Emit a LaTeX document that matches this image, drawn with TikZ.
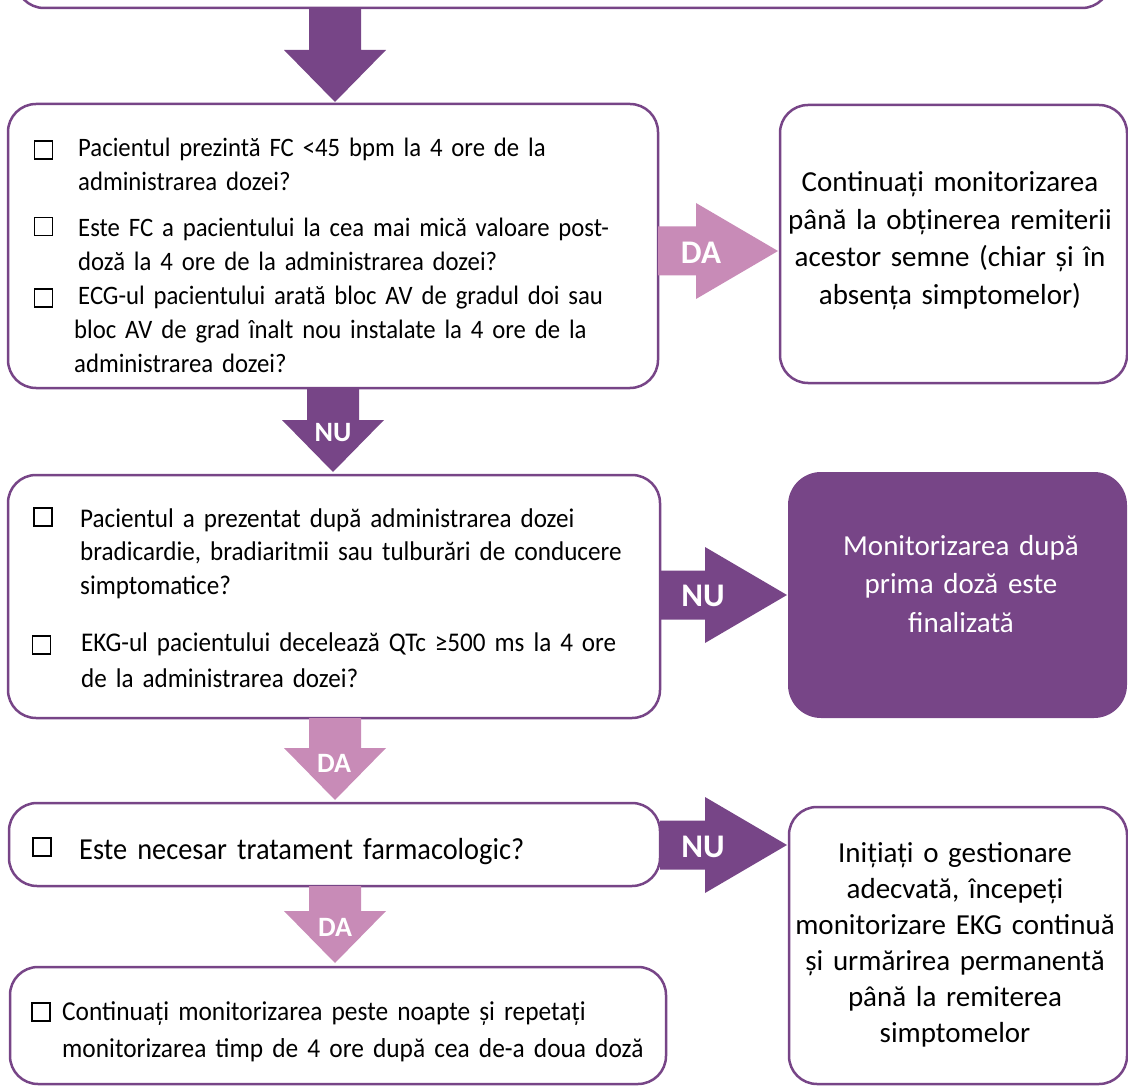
\documentclass[tikz,border=0pt]{standalone}
\usepackage{fontspec}
\setmainfont{Carlito}
\newfontfamily\condf[FakeStretch=0.93,WordSpace=0.85]{Carlito}
\definecolor{purp}{RGB}{119,69,135}
\definecolor{pinkc}{RGB}{200,139,183}
\tikzset{
  box/.style={draw=purp, line width=2.5pt, rounded corners=28pt, fill=white, inner sep=0pt},
  fbox/.style={fill=purp, rounded corners=33pt, inner sep=0pt},
  chk/.style={draw=black, line width=1.1pt, minimum size=18pt, inner sep=0pt},
  ltxt/.style={anchor=base west, text width=700pt, align=left, inner sep=0pt, font=\condf\fontsize{26.6}{34}\selectfont},
  ctxt/.style={anchor=base, text width=345pt, align=center, inner sep=0pt, font=\fontsize{29}{37.5}\selectfont},
  lblbig/.style={text=white, inner sep=0pt, font=\bfseries\fontsize{33}{33}\selectfont},
  lblsm/.style={text=white, inner sep=0pt, font=\bfseries\fontsize{28}{28}\selectfont},
}
\newcommand{\DownArr}[4]{% color, cx, ytop, ybot
  \fill[#1] ({#2-26},{#3}) -- ({#2-26},{#4-52}) -- ({#2-51},{#4-52}) -- ({#2},{#4})
    -- ({#2+51},{#4-52}) -- ({#2+26},{#4-52}) -- ({#2+26},{#3}) -- cycle;}
\newcommand{\RightArr}[4]{% color, cy, xleft, xright
  \fill[#1] ({#3},{#2-24.5}) -- ({#4-82},{#2-24.5}) -- ({#4-82},{#2-48}) -- ({#4},{#2})
    -- ({#4-82},{#2+48}) -- ({#4-82},{#2+24.5}) -- ({#3},{#2+24.5}) -- cycle;}
\begin{document}
\begin{tikzpicture}[x=1pt,y=-1pt]
\useasboundingbox (0,0) rectangle (1128,1086);

% boxes
\node[box, minimum width=1094pt, minimum height=80pt] (top) at (563,-32) {};
\node[box, minimum width=650pt, minimum height=284pt] (q1) at (333,246) {};
\node[box, minimum width=347pt, minimum height=278pt] (r1) at (953.5,244) {};
\node[box, minimum width=652pt, minimum height=243pt] (q2) at (334,596.5) {};
\node[fbox, minimum width=339pt, minimum height=246pt] (r2) at (957.5,595) {};
\node[box, minimum width=651pt, minimum height=83pt] (q3) at (334.5,844.5) {};
\node[box, minimum width=338pt, minimum height=277pt] (r3) at (958,945.5) {};
\node[box, minimum width=656pt, minimum height=117pt] (q4) at (338,1025.5) {};

% arrows
\DownArr{purp}{335}{8}{102}
\DownArr{purp}{333}{388}{472}
\DownArr{pinkc}{335}{718}{800}
\DownArr{pinkc}{335}{886}{963}
\RightArr{pinkc}{251}{658}{778}
\RightArr{purp}{595}{660}{787}
\RightArr{purp}{845}{660}{787}

\node[lblbig] (lda1) at (701,253) {DA};
\node[lblsm] (lnu1) at (333,433) {NU};
\node[lblbig] (lnu2) at (703,596) {NU};
\node[lblsm] (lda2) at (334,763) {DA};
\node[lblbig] (lnu3) at (703,847) {NU};
\node[lblsm] (lda3) at (335,927) {DA};

% box 1
\node[chk] (c11) at (43.5,150) {};
\node[chk] (c12) at (43.5,226.5) {};
\node[chk] (c13) at (43.5,298) {};
\node[ltxt] (t11) at (78,157) {Pacientul prezintă FC <45 bpm la 4 ore de la\\administrarea dozei?};
\node[ltxt] (t12) at (78,237) {Este FC a pacientului la cea mai mică valoare post-\\doză la 4 ore de la administrarea dozei?};
\node[ltxt] (t13) at (74,305) {\hspace*{4pt}ECG-ul pacientului arată bloc AV de gradul doi sau\\bloc AV de grad înalt nou instalate la 4 ore de la\\administrarea dozei?};

% box 2
\node[chk] (c21) at (43,517) {};
\node[chk] (c22) at (41.5,645) {};
\node[ltxt, font=\condf\fontsize{27}{33.5}\selectfont] (t21) at (80,527) {Pacientul a prezentat după administrarea dozei\\bradicardie, bradiaritmii sau tulburări de conducere\\simptomatice?};
\node[ltxt, font=\condf\fontsize{27}{36}\selectfont] (t22) at (81,651) {EKG-ul pacientului decelează QTc ≥500 ms la 4 ore\\de la administrarea dozei?};

% box 3
\node[chk] (c31) at (42,847) {};
\node[ltxt, font=\condf\fontsize{30.5}{36}\selectfont] (t31) at (79,859) {Este necesar tratament farmacologic?};

% box 4
\node[chk] (c41) at (41,1012) {};
\node[ltxt, font=\condf\fontsize{27.3}{37}\selectfont] (t41) at (62,1020) {Continuați monitorizarea peste noapte și repetați\\monitorizarea timp de 4 ore după cea de-a doua doză};

% right boxes
\node[ctxt] (tr1) at (950,192) {Continuați monitorizarea\\până la obținerea remiterii\\acestor semne (chiar și în\\absența simptomelor)};
\node[ctxt, text=white, font=\fontsize{29}{38.5}\selectfont] (tr2) at (961,555) {Monitorizarea după\\prima doză este\\finalizată};
\node[ctxt, font=\fontsize{29}{36}\selectfont] (tr3) at (955,862) {Inițiați o gestionare\\adecvată, începeți\\monitorizare EKG continuă\\și urmărirea permanentă\\până la remiterea\\simptomelor};
\end{tikzpicture}
\end{document}
